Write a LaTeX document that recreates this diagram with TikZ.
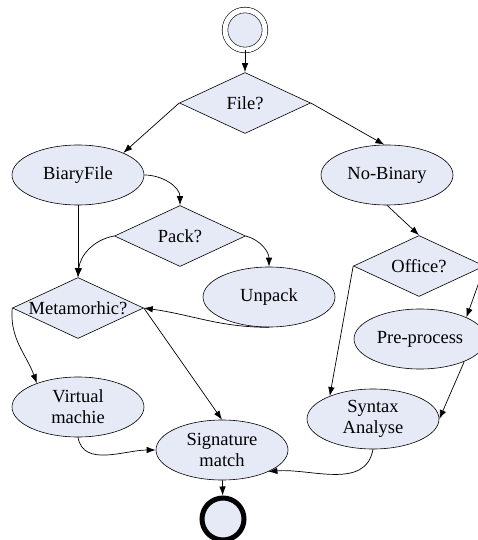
\documentclass[tikz,border=0pt]{standalone}
\usepackage{fontspec}
\setmainfont{Liberation Serif}
\usepackage{xcolor}
\usepackage{tikz}
\usetikzlibrary{positioning, shapes, arrows.meta}
\definecolor{lavender}{HTML}{E6EAF7}

\begin{document}
\begin{tikzpicture}[x=1pt, y=-1pt,
          every node/.style={draw, fill=lavender, line width=0.6pt, inner sep=0pt,
                             font=\fontsize{18.5}{21}\selectfont, align=center},
          state/.style={ellipse, minimum width=132pt, minimum height=60pt},
          test/.style={diamond, minimum width=131pt, minimum height=61pt},
          flow/.style={-{Latex[length=9pt,width=6.5pt]}, line width=0.7pt}]
          \useasboundingbox (0,0) rectangle (477,540);

          \node[circle, double=white, double distance=5pt, minimum size=40pt] (start) at (245,30) {};
          \node[test] (file) at (245,103) {\makebox[0pt]{File?}};
          \node[state] (bin) at (78,175) {BiaryFile};
          \node[state] (nobin) at (387,175) {No-Binary};
          \node[test] (pack) at (180,236) {\makebox[0pt]{Pack?}};
          \node[state] (unpack) at (269,297) {Unpack};
          \node[test] (meta) at (78,308) {\makebox[0pt]{Metamorhic?}};
          \node[test] (office) at (419,266) {\makebox[0pt]{Office?}};
          \node[state] (prep) at (420,339) {Pre-process};
          \node[state] (vm) at (78,407) {Virtual\\machie};
          \node[state] (syntax) at (373,419) {Syntax\\Analyse};
          \node[state] (sig) at (222,450) {Signature\\match};
          \node[circle, line width=5pt, minimum size=42pt] (stop) at (223,519) {};

          \draw[flow] (start) -- (file);
          \draw[flow] (file.west) -- (bin.26);
          \draw[flow] (file.east) -- (nobin.95);
          \draw[flow] (bin.east) to[out=0, in=90] (pack.north);
          \draw[flow] (bin.south) -- (meta.north);
          \draw[flow] (pack.west) to[out=190, in=85] (meta.north);
          \draw[flow] (pack.east) to[out=-15, in=90] (unpack.north);
          \draw[flow] (unpack.south) to[out=180, in=-8] (meta.east);
          \draw[flow] (meta.east) -- (sig.north);
          \draw[flow] (meta.west) to[out=-95, in=110] (vm.150);
          \draw[flow] (vm.south) to[out=-80, in=180] (sig.west);
          \draw[flow] (nobin.south) -- (office.north);
          \draw[flow] (office.east) -- (prep.25);
          \draw[flow] (office.west) -- (syntax.152);
          \draw[flow] (prep.-27) -- (syntax.east);
          \draw[flow] (syntax.south) to[out=-100, in=5] (sig.-25);
          \draw[flow] (sig) -- (stop);
        \end{tikzpicture}
\end{document}
